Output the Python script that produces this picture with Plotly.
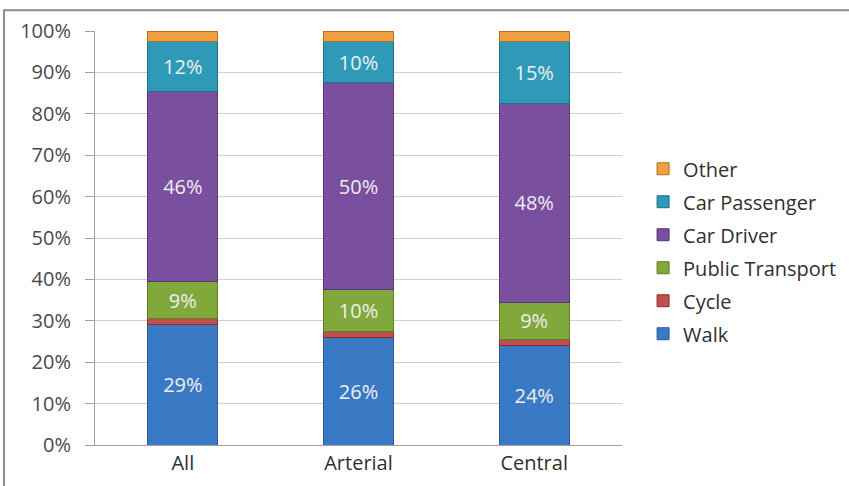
import plotly.graph_objects as go

categories = ["All", "Arterial", "Central"]
series_names = ["Walk", "Cycle", "Public Transport", "Car Driver", "Car Passenger", "Other"]
walk = [29, 26, 24]
cycle = [1.5, 1.5, 1.5]
public_transport = [9, 10, 9]
car_driver = [46, 50, 48]
car_passenger = [12, 10, 15]
other = [2.5, 2.5, 2.5]
labels_walk = ["29%", "26%", "24%"]
labels_pt = ["9%", "10%", "9%"]
labels_driver = ["46%", "50%", "48%"]
labels_passenger = ["12%", "10%", "15%"]
y_ticks = list(range(0, 101, 10))
y_tick_labels = [f"{v}%" for v in y_ticks]

series_values = [walk, cycle, public_transport, car_driver, car_passenger, other]
series_labels = [labels_walk, None, labels_pt, labels_driver, labels_passenger, None]
colors = ["#3A7AC4", "#C0504D", "#80A83A", "#7A4F9E", "#2E9AB7", "#F0A043"]
edge = ["#2A5A94", "#8E2E2C", "#5E7E24", "#56357A", "#1F6F86", "#B0701C"]

fig = go.Figure()
for i, (name, vals, labs, c, e) in enumerate(zip(series_names, series_values, series_labels, colors, edge)):
    fig.add_trace(go.Bar(
        name=name, x=categories, y=vals, width=0.4,
        marker=dict(color=c, line=dict(color=e, width=1)),
        text=labs if labs else None,
        textposition="inside" if labs else "none",
        insidetextanchor="middle",
        textfont=dict(color="#EEEEEE", size=20, family="Open Sans"),
        textangle=0,
        legendgroup=name,
        legendrank=len(series_names) - i,
        hoverinfo="skip",
    ))

fig.update_layout(
    barmode="stack",
    width=849, height=486,
    margin=dict(l=95, r=227, t=31, b=41, autoexpand=False),
    paper_bgcolor="white", plot_bgcolor="white",
    font=dict(family="Open Sans", size=20, color="#404040"),
    showlegend=True,
    legend=dict(
        traceorder="grouped", tracegroupgap=4,
        x=1.04, xanchor="left", y=0.468, yanchor="middle",
        font=dict(size=20, color="#303030"),
        itemwidth=30,
    ),
    uniformtext=dict(mode="show", minsize=8),
)
fig.update_yaxes(
    range=[0, 100], tickvals=y_ticks, ticktext=y_tick_labels,
    showgrid=True, gridcolor="#CFCFCF", gridwidth=1,
    showline=True, linecolor="#A0A0A0", ticks="outside", ticklen=9, tickcolor="#A0A0A0",
    tickfont=dict(size=20, color="#4A4A4A"), ticklabelstandoff=10,
    zeroline=False,
)
fig.update_xaxes(
    showline=True, linecolor="#A0A0A0", ticks="", tickfont=dict(size=20, color="#303030"),
)
fig.add_shape(type="rect", xref="paper", yref="paper", x0=-0.1727, x1=1.6, y0=-0.3, y1=1.05,
              line=dict(color="#8C8C8C", width=2), fillcolor="rgba(0,0,0,0)", layer="below")

fig.write_html("out.html", config={"displayModeBar": False},
               post_script="document.body.style.margin='0px';")
